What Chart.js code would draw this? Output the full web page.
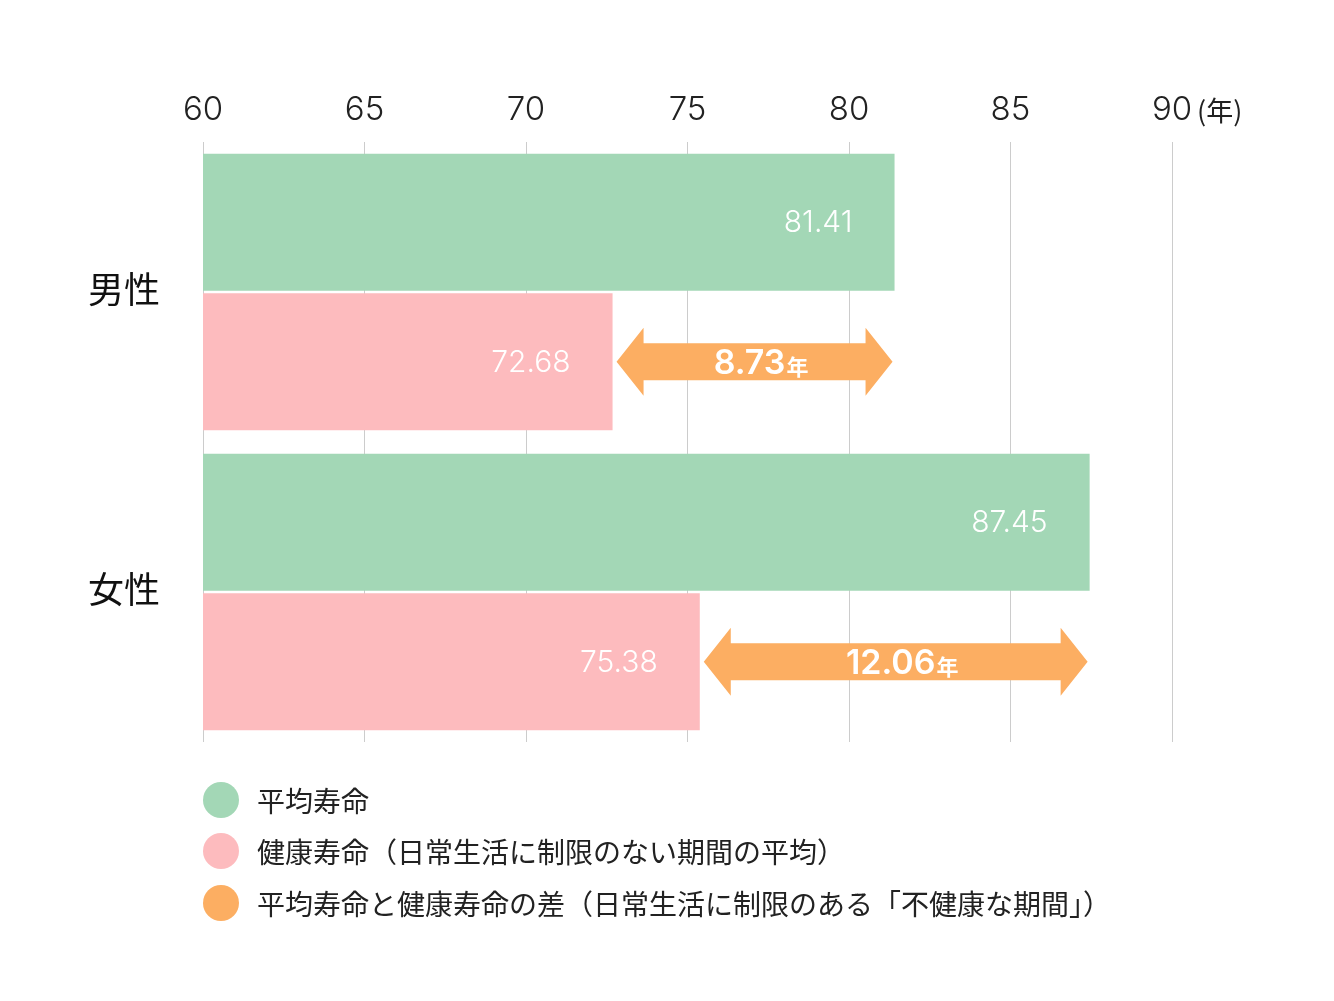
<!DOCTYPE html>
<html lang="ja">
<head>
<meta charset="utf-8">
<script src="https://cdn.jsdelivr.net/npm/chart.js@4"></script>
<style>
  html, body { margin: 0; padding: 0; background: #fff; }
  #wrap { position: relative; width: 1334px; height: 1001px; }
  #lifeChart { position: absolute; left: 0; top: 0; }
  .legend { position: absolute; left: 203px; top: 774px; font-family: 'Noto Sans CJK JP', sans-serif; font-size: 28px; color: #222; }
  .legend .item { display: flex; align-items: center; height: 51.5px; }
  .legend .dot { width: 36px; height: 36px; border-radius: 50%; margin-right: 18px; }
</style>
</head>
<body>
<div id="wrap">
  <canvas id="lifeChart" width="1334" height="1001"></canvas>
  <div class="legend" id="legend"></div>
</div>
<script>
// 平均寿命と健康寿命（男女別）
const categories = ['男性', '女性'];
const averageLife = [81.41, 87.45];
const healthyLife = [72.68, 75.38];
const gapYears = [8.73, 12.06];
const xTicks = [60, 65, 70, 75, 80, 85, 90];

const legendLabels = [
    '平均寿命',
    '健康寿命（日常生活に制限のない期間の平均）',
    '平均寿命と健康寿命の差（日常生活に制限のある「不健康な期間」）'
];
const colors = ['#a3d7b6', '#fdbbbe', '#fcae62'];
const FONT = "'Noto Sans CJK JP', sans-serif";
const NUM_FONT = "Inter, 'Noto Sans CJK JP', sans-serif";

// value text inside each bar
const barLabels = {
    id: 'barLabels',
    afterDatasetsDraw(chart) {
        const ctx = chart.ctx;
        ctx.save();
        ctx.fillStyle = '#fff';
        ctx.font = '300 30px ' + NUM_FONT;
        ctx.textAlign = 'right';
        ctx.textBaseline = 'middle';
        chart.data.datasets.forEach((ds, di) => {
            chart.getDatasetMeta(di).data.forEach((bar, i) => {
                ctx.fillText(ds.data[i].toFixed(2), bar.x - 42, bar.y + 1);
            });
        });
        ctx.restore();
    }
};

// double arrow showing the gap
const gapArrows = {
    id: 'gapArrows',
    afterDatasetsDraw(chart) {
        const ctx = chart.ctx;
        const xs = chart.scales.x;
        const pinkMeta = chart.getDatasetMeta(1);
        ctx.save();
        categories.forEach((c, i) => {
            const x1 = xs.getPixelForValue(healthyLife[i]) + 4;
            const x2 = xs.getPixelForValue(averageLife[i]) - 2;
            const y = pinkMeta.data[i].y;
            const sh = 18.5, hh = 34, hl = 27;
            ctx.fillStyle = colors[2];
            ctx.beginPath();
            ctx.moveTo(x1, y);
            ctx.lineTo(x1 + hl, y - hh);
            ctx.lineTo(x1 + hl, y - sh);
            ctx.lineTo(x2 - hl, y - sh);
            ctx.lineTo(x2 - hl, y - hh);
            ctx.lineTo(x2, y);
            ctx.lineTo(x2 - hl, y + hh);
            ctx.lineTo(x2 - hl, y + sh);
            ctx.lineTo(x1 + hl, y + sh);
            ctx.lineTo(x1 + hl, y + hh);
            ctx.closePath();
            ctx.fill();

            const num = gapYears[i].toFixed(2);
            ctx.fillStyle = '#fff';
            ctx.textBaseline = 'alphabetic';
            ctx.font = '600 34px ' + NUM_FONT;
            const w1 = ctx.measureText(num).width;
            ctx.font = 'bold 22px ' + FONT;
            const w2 = ctx.measureText('年').width;
            const sx = (x1 + x2) / 2 - (w1 + w2) / 2 + 6;
            ctx.textAlign = 'left';
            ctx.font = '600 34px ' + NUM_FONT;
            ctx.fillText(num, sx, y + 12);
            ctx.font = 'bold 22px ' + FONT;
            ctx.fillText('年', sx + w1 + 1, y + 13);
        });
        ctx.restore();
    }
};

// unit "(年)" next to the last tick
const unitLabel = {
    id: 'unitLabel',
    afterDraw(chart) {
        const ctx = chart.ctx;
        const xs = chart.scales.x;
        ctx.save();
        ctx.fillStyle = '#222';
        ctx.font = '27px ' + FONT;
        ctx.textAlign = 'left';
        ctx.textBaseline = 'middle';
        ctx.fillText('(年)', xs.getPixelForValue(90) + 25, 111);
        ctx.restore();
    }
};

const chartData = {
    labels: categories,
    datasets: [{
        label: legendLabels[0],
        data: averageLife,
        backgroundColor: colors[0],
        categoryPercentage: 0.93,
        barPercentage: 0.982
    }, {
        label: legendLabels[1],
        data: healthyLife,
        backgroundColor: colors[1],
        categoryPercentage: 0.93,
        barPercentage: 0.982
    }]
};

const config = {
    type: 'bar',
    data: chartData,
    options: {
        indexAxis: 'y',
        responsive: false,
        animation: false,
        layout: { padding: { top: 0, right: 162, bottom: 259, left: 0 } },
        plugins: {
            legend: { display: false },
            tooltip: { enabled: false }
        },
        scales: {
            x: {
                position: 'top',
                min: 60,
                max: 90,
                afterBuildTicks(scale) {
                    scale.ticks = xTicks.map(v => ({ value: v }));
                },
                afterFit(scale) { scale.height = 142; },
                grid: { color: '#cccccc', lineWidth: 1, drawTicks: false },
                border: { display: false },
                ticks: {
                    padding: 12,
                    color: '#222',
                    font: { size: 33, family: NUM_FONT, weight: '300' }
                }
            },
            y: {
                afterFit(scale) { scale.width = 203; },
                grid: { display: false },
                border: { display: false },
                ticks: {
                    padding: 35,
                    labelOffset: -3,
                    color: '#111',
                    font: { size: 36, family: FONT }
                }
            }
        }
    },
    plugins: [barLabels, gapArrows, unitLabel]
};

document.addEventListener('DOMContentLoaded', function() {
    const ctx = document.getElementById('lifeChart');
    new Chart(ctx, config);

    const legend = document.getElementById('legend');
    legendLabels.forEach((text, i) => {
        const item = document.createElement('div');
        item.className = 'item';
        item.innerHTML = '<span class="dot" style="background:' + colors[i] + '"></span><span></span>';
        item.lastChild.textContent = text;
        legend.appendChild(item);
    });
});
</script>
</body>
</html>
